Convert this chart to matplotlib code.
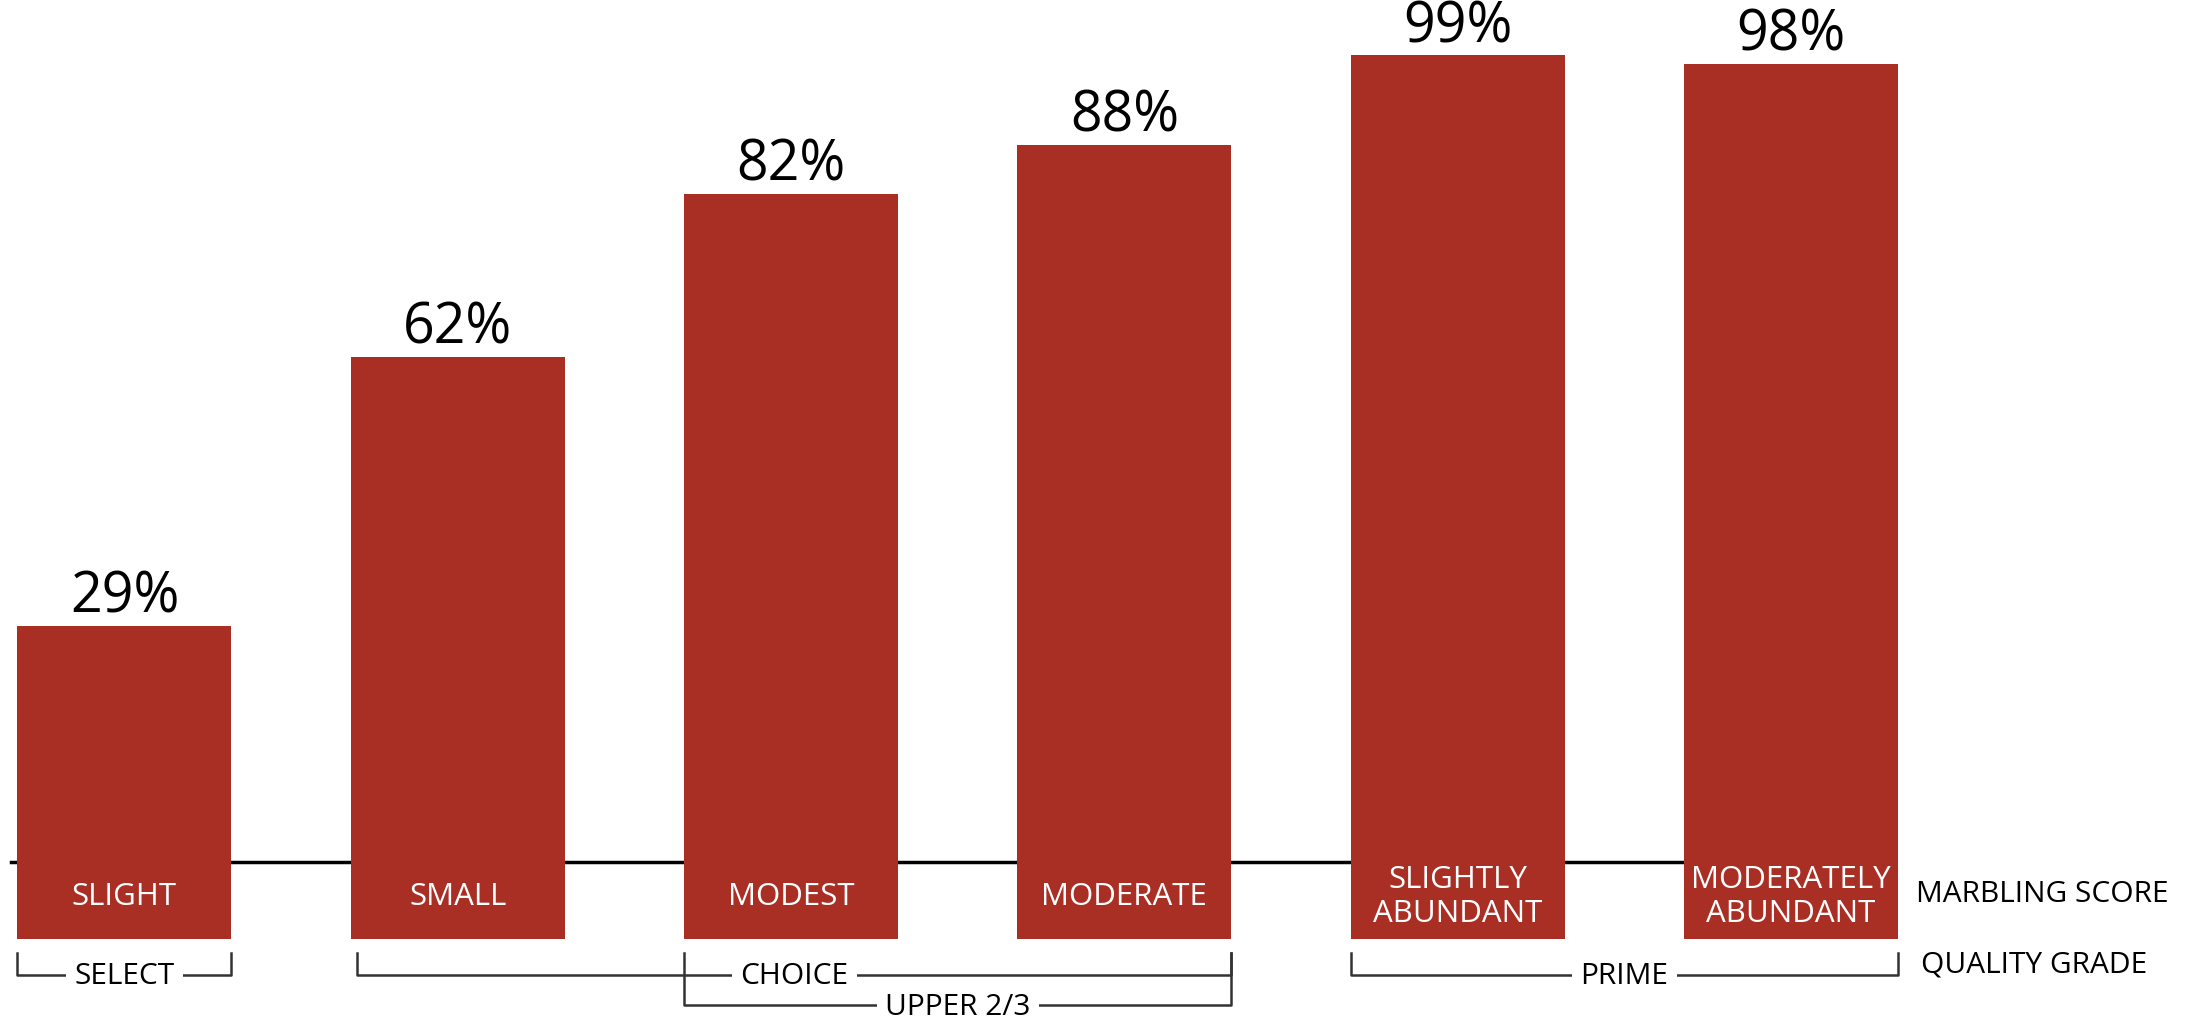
import numpy as np
import matplotlib.pyplot as plt

plt.rcParams['font.family'] = ['Open Sans', 'DejaVu Sans']

# marbling score -> percent
marbling = ["SLIGHT", "SMALL", "MODEST", "MODERATE", "SLIGHTLY\nABUNDANT", "MODERATELY\nABUNDANT"]
percent = [29, 62, 82, 88, 99, 98]
value_labels = ["29%", "62%", "82%", "88%", "99%", "98%"]

# quality grade brackets: (label, first bar, last bar, row)
grades = [("SELECT", 0, 0, 0), ("CHOICE", 1, 3, 0), ("UPPER 2/3", 2, 3, 1), ("PRIME", 4, 5, 0)]

bar_color = "#a92e24"
pad = 9.4          # bars hang below the zero line
width = 0.642

fig = plt.figure(figsize=(22.04, 10.23), dpi=100)
ax = fig.add_axes([0, 0, 1, 1])
ax.set_xlim(-0.3735, 6.239)
ax.set_ylim(-19.75, 105.8)
ax.axis("off")

x = np.arange(len(percent))
vals = np.array(percent)

# zero line behind the bars
ax.plot([-0.34, x[-1]], [0, 0], color="black", lw=2.5, zorder=1)
ax.bar(x, vals + pad, bottom=-pad, width=width, color=bar_color, zorder=2)

for xi, v, lab, name in zip(x, vals, value_labels, marbling):
    ax.text(xi, v + 1.6, lab, ha="center", va="baseline", fontsize=40, color="black")
    ax.text(xi, -4.3, name, ha="center", va="center", fontsize=22.5, color="white",
            linespacing=1.2, zorder=3)

ax.text(5.375, -4.0, "MARBLING SCORE", ha="left", va="center", fontsize=21.5)
ax.text(5.39, -12.6, "QUALITY GRADE", ha="left", va="center", fontsize=21.5)

# brackets
row_y = [-13.8, -17.6]
top_y = -11.2
for name, i0, i1, row in grades:
    left = x[i0] - width / 2
    right = x[i1] + width / 2
    if name == "CHOICE":
        left += 0.02
    yb = row_y[row]
    ax.plot([left, left, right, right], [top_y, yb, yb, top_y], color="#333333",
            lw=1.8, zorder=1)
    ax.text((left + right) / 2, yb - 0.3, name, ha="center", va="center", fontsize=21.5,
            bbox=dict(facecolor="white", edgecolor="none", pad=6), zorder=4)

fig.savefig("out.png", dpi=100)
